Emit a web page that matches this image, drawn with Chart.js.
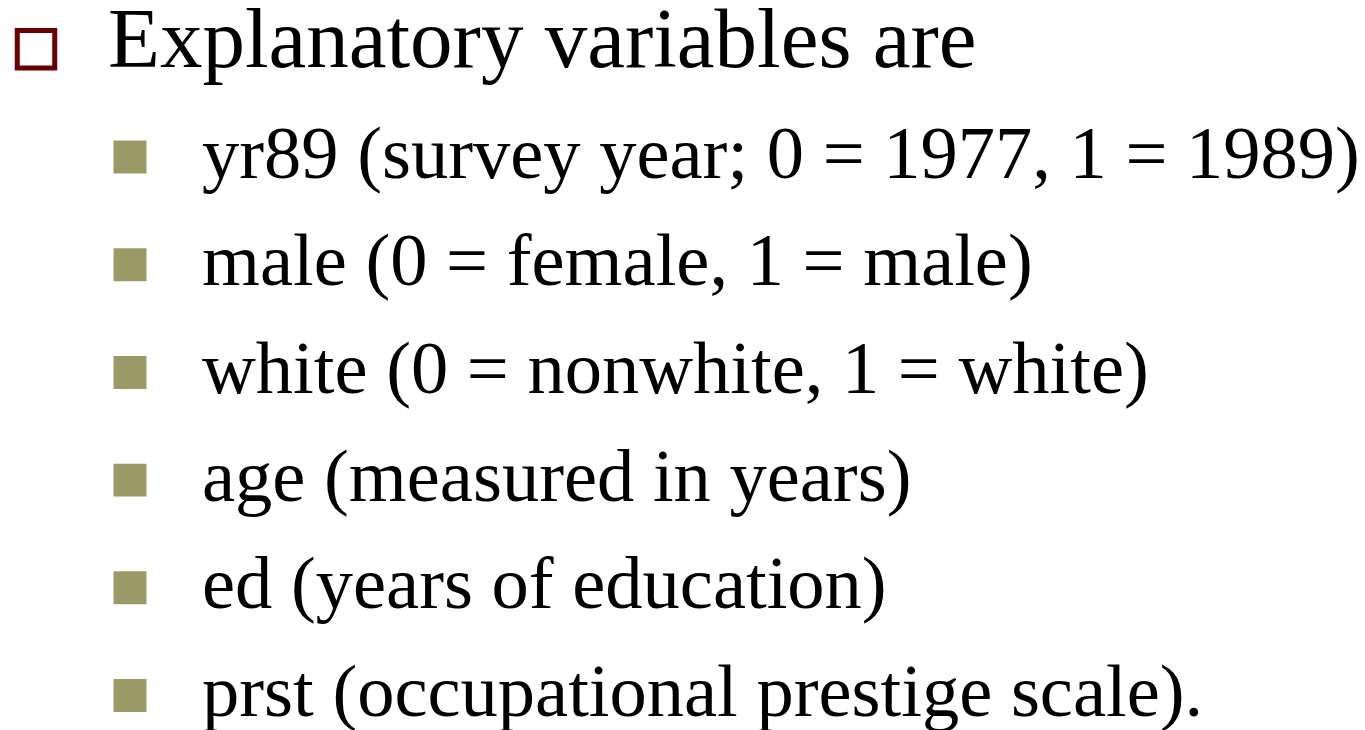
<!DOCTYPE html>
<html>
<head>
<meta charset="utf-8">
<script src="https://cdn.jsdelivr.net/npm/chart.js@4"></script>
<style>
  html, body { margin: 0; padding: 0; background: #fff; }
  canvas { display: block; }
</style>
</head>
<body>
<canvas id="folie" width="1365" height="730"></canvas>
<script>
// Inhalt der Folie
const zeilen = [
  "Explanatory variables are",
  "yr89 (survey year; 0 = 1977, 1 = 1989)",
  "male (0 = female, 1 = male)",
  "white (0 = nonwhite, 1 = white)",
  "age (measured in years)",
  "ed (years of education)",
  "prst (occupational prestige scale)."
];
const ebenen = [0, 1, 1, 1, 1, 1, 1];   // Gliederungsebene
const zeilenNr = [0, 1, 2, 3, 4, 5, 6];

// Stil je Ebene
const stil = {
  0: { font: "85px 'Liberation Serif', 'Times New Roman', serif", dy: -3, base: 21 },
  1: { font: "74.5px 'Liberation Serif', 'Times New Roman', serif", dy: 0, base: 20.5 }
};

const punkte = zeilenNr.map((z, i) => ({ x: ebenen[i], y: z }));

// Text neben die Aufzählungszeichen schreiben
const textPlugin = {
  id: 'zeilenText',
  afterDatasetsDraw(chart) {
    const c = chart.ctx;
    const meta = chart.getDatasetMeta(0);
    c.save();
    c.fillStyle = '#000';
    c.textAlign = 'left';
    c.textBaseline = 'alphabetic';
    meta.data.forEach((p, i) => {
      const s = stil[ebenen[i]];
      c.font = s.font;
      c.fillText(zeilen[i], p.x + 72, p.y + s.dy + s.base);
    });
    c.restore();
  }
};

new Chart(document.getElementById('folie').getContext('2d'), {
  type: 'scatter',
  data: {
    datasets: [{
      data: punkte,
      pointStyle: 'rect',
      pointRadius: ebenen.map(e => e === 0 ? 26.5 : 23.3),
      pointBorderWidth: ebenen.map(e => e === 0 ? 5 : 0),
      pointBackgroundColor: ebenen.map(e => e === 0 ? 'rgba(0,0,0,0)' : '#9b9a66'),
      pointBorderColor: ebenen.map(e => e === 0 ? '#6b0000' : '#9b9a66'),
      clip: false
    }]
  },
  options: {
    responsive: false,
    animation: false,
    layout: { padding: 0, autoPadding: false },
    plugins: { legend: { display: false }, tooltip: { enabled: false } },
    scales: {
      x: { type: 'linear', display: false, min: -0.383, max: 14.138 },
      y: { type: 'linear', display: false, reverse: true, min: -0.458, max: 6.320 }
    }
  },
  plugins: [textPlugin]
});
</script>
</body>
</html>
